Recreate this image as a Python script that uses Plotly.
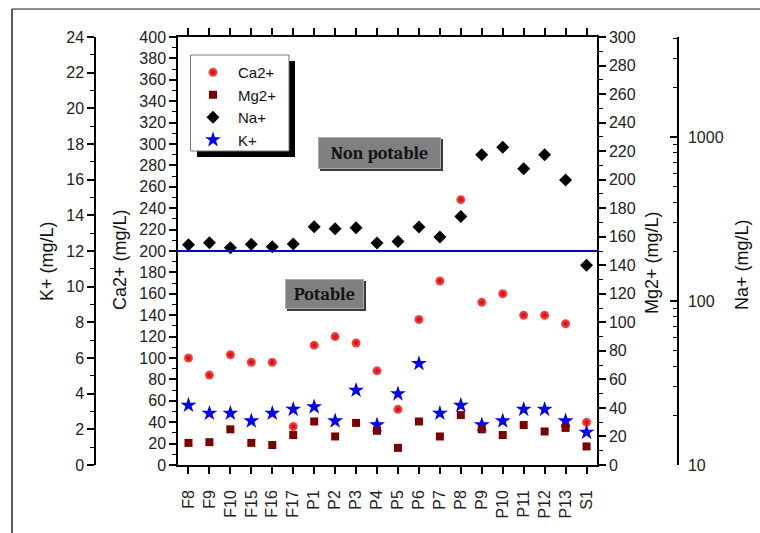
import plotly.graph_objects as go

# ---------------- data ----------------
samples = ["F8", "F9", "F10", "F15", "F16", "F17", "P1", "P2", "P3", "P4",
           "P5", "P6", "P7", "P8", "P9", "P10", "P11", "P12", "P13", "S1"]
ca = [100, 84, 103, 96, 96, 36, 112, 120, 114, 88, 52, 136, 172, 248, 152, 160, 140, 140, 132, 40]
mg = [15.5, 16, 25, 15.5, 14, 21, 30.5, 20, 29.5, 24, 12, 30.5, 20, 35, 25, 21, 28, 23.5, 26, 13]
na = [220, 227, 211, 222, 214, 223, 284, 276, 280, 226, 231, 283, 246, 328, 780, 865, 641, 780, 547, 165]
k = [3.35, 2.9, 2.9, 2.47, 2.9, 3.12, 3.26, 2.47, 4.19, 2.25, 3.99, 5.69, 2.9, 3.35, 2.25, 2.47, 3.12, 3.12, 2.47, 1.83]
limit_ca = 200

ca_ticks = list(range(0, 401, 20))
k_ticks = list(range(0, 25, 2))
mg_ticks = list(range(0, 301, 20))
na_ticks = [10, 100, 1000]
na_minor = [20, 30, 40, 50, 60, 70, 80, 90, 200, 300, 400, 500, 600, 700, 800, 900, 2000, 3000, 4000]

# ---------------- layout helpers ----------------
W, H = 760, 533


def px(x):
    return x / W


def py(y):
    return 1 - y / H


FONT = "Arial, Liberation Sans, sans-serif"
SERIF = "Cambria, Liberation Serif, DejaVu Serif, serif"

fig = go.Figure()

fig.add_trace(go.Scatter(
    x=samples, y=ca, mode="markers", name="Ca2+", yaxis="y",
    marker=dict(symbol="circle", size=9, color="#ff5050",
                gradient=dict(type="radial", color="#c80000"), line=dict(width=0))))
fig.add_trace(go.Scatter(
    x=samples, y=mg, mode="markers", name="Mg2+", yaxis="y3",
    marker=dict(symbol="square", size=8, color="#7a0000", line=dict(width=0))))
fig.add_trace(go.Scatter(
    x=samples, y=na, mode="markers", name="Na+", yaxis="y4",
    marker=dict(symbol="diamond", size=10, color="black", line=dict(width=0))))
fig.add_trace(go.Scatter(
    x=samples, y=k, mode="markers", name="K+", yaxis="y2",
    marker=dict(symbol="star", size=12, color="#0000ee", line=dict(width=0))))

x0, x1 = 178, 597
ytop, ybot = 37, 465

axis_common = dict(showgrid=False, zeroline=False, showline=True, linecolor="black",
                   linewidth=1.5, tickcolor="black", tickwidth=1.5, ticklen=7,
                   automargin=False,
                   tickfont=dict(family=FONT, size=16, color="#222"))

fig.update_layout(
    width=W, height=H, autosize=False,
    margin=dict(l=0, r=0, t=0, b=0, pad=0),
    paper_bgcolor="white", plot_bgcolor="white",
    font=dict(family=FONT, size=16, color="#222"),
    xaxis=dict(type="category", domain=[px(x0), px(x1)], range=[-0.5, 19.5],
               ticks="outside", mirror="ticks", tickangle=-90, ticklabelstandoff=10,
               **axis_common),
    yaxis=dict(domain=[py(ybot), py(ytop)], range=[0, 400], tickmode="array",
               tickvals=ca_ticks, ticks="outside", side="left",
               minor=dict(dtick=10, ticks="outside", ticklen=4, tickcolor="black", tickwidth=1.2),
               **axis_common),
    yaxis2=dict(overlaying="y", anchor="free", position=px(95), side="left",
                range=[0, 24], tickmode="array", tickvals=k_ticks, ticks="outside",
                minor=dict(dtick=1, ticks="outside", ticklen=4, tickcolor="black", tickwidth=1.2),
                **axis_common),
    yaxis3=dict(overlaying="y", anchor="x", side="right", range=[0, 300],
                tickmode="array", tickvals=mg_ticks, ticks="outside",
                minor=dict(dtick=10, ticks="outside", ticklen=4, tickcolor="black", tickwidth=1.2),
                **axis_common),
    yaxis4=dict(overlaying="y", anchor="free", position=px(678), side="right",
                type="log", range=[1, 3.61], tickmode="array", tickvals=na_ticks,
                ticktext=[str(v) for v in na_ticks], ticks="inside", ticklabelstandoff=6,
                minor=dict(tickmode="array", tickvals=na_minor, ticks="inside", ticklen=4,
                           tickcolor="black", tickwidth=1.2),
                **axis_common),
    legend=dict(x=px(188), y=py(56), xanchor="left", yanchor="top",
                bgcolor="rgba(0,0,0,0)", borderwidth=0,
                font=dict(family=FONT, size=15, color="#111"),
                itemsizing="trace", itemwidth=40, tracegroupgap=0),
    showlegend=True,
)

shapes = []
# limit line
shapes.append(dict(type="line", xref="paper", yref="y", x0=px(x0), x1=px(x1),
                   y0=limit_ca, y1=limit_ca, line=dict(color="#0000cc", width=2)))
# legend frame with shadow
shapes.append(dict(type="rect", xref="paper", yref="paper", x0=px(197), x1=px(295),
                   y0=py(157), y1=py(61), fillcolor="black", line=dict(width=0), layer="above"))
shapes.append(dict(type="rect", xref="paper", yref="paper", x0=px(190.5), x1=px(289),
                   y0=py(151), y1=py(55), fillcolor="white", line=dict(color="#777", width=1),
                   layer="above"))
# bevel shadows of the label boxes
for (bx0, by0, bx1, by1) in [(318, 137, 443, 171), (285, 279, 366, 311)]:
    shapes.append(dict(type="rect", xref="paper", yref="paper", x0=px(bx0 + 2), x1=px(bx1),
                       y0=py(by1), y1=py(by0 + 2), fillcolor="#3a3a3a", line=dict(width=0),
                       layer="above"))
# page frame
shapes.append(dict(type="line", xref="paper", yref="paper", x0=px(12), x1=1, y0=py(9), y1=py(9),
                   line=dict(color="#666", width=1.5)))
shapes.append(dict(type="line", xref="paper", yref="paper", x0=px(12), x1=px(12), y0=py(9), y1=0,
                   line=dict(color="#222", width=1.5)))
fig.update_layout(shapes=shapes)

title_font = dict(family=FONT, size=18, color="#111")
annotations = [
    dict(text="<b>Non potable</b>", x=px(318), y=py(137), xref="paper", yref="paper",
         xanchor="left", yanchor="top", width=119, height=28, borderpad=1,
         bgcolor="#808080", bordercolor="#a8a8a8", borderwidth=1, align="center", valign="middle",
         showarrow=False, font=dict(family=SERIF, size=18, color="#141414")),
    dict(text="<b>Potable</b>", x=px(285), y=py(279), xref="paper", yref="paper",
         xanchor="left", yanchor="top", width=75, height=26, borderpad=1,
         bgcolor="#808080", bordercolor="#a8a8a8", borderwidth=1, align="center", valign="middle",
         showarrow=False, font=dict(family=SERIF, size=18, color="#141414")),
    dict(text="K+ (mg/L)", x=px(47), y=py(261), xref="paper", yref="paper", textangle=-90,
         xanchor="center", yanchor="middle", showarrow=False, font=title_font),
    dict(text="Ca2+ (mg/L)", x=px(120), y=py(260), xref="paper", yref="paper", textangle=-90,
         xanchor="center", yanchor="middle", showarrow=False, font=title_font),
    dict(text="Mg2+ (mg/L)", x=px(652), y=py(263), xref="paper", yref="paper", textangle=-90,
         xanchor="center", yanchor="middle", showarrow=False, font=title_font),
    dict(text="Na+ (mg/L)", x=px(742), y=py(265), xref="paper", yref="paper", textangle=-90,
         xanchor="center", yanchor="middle", showarrow=False, font=title_font),
]
fig.update_layout(annotations=annotations)

fig.write_html("out.html")
